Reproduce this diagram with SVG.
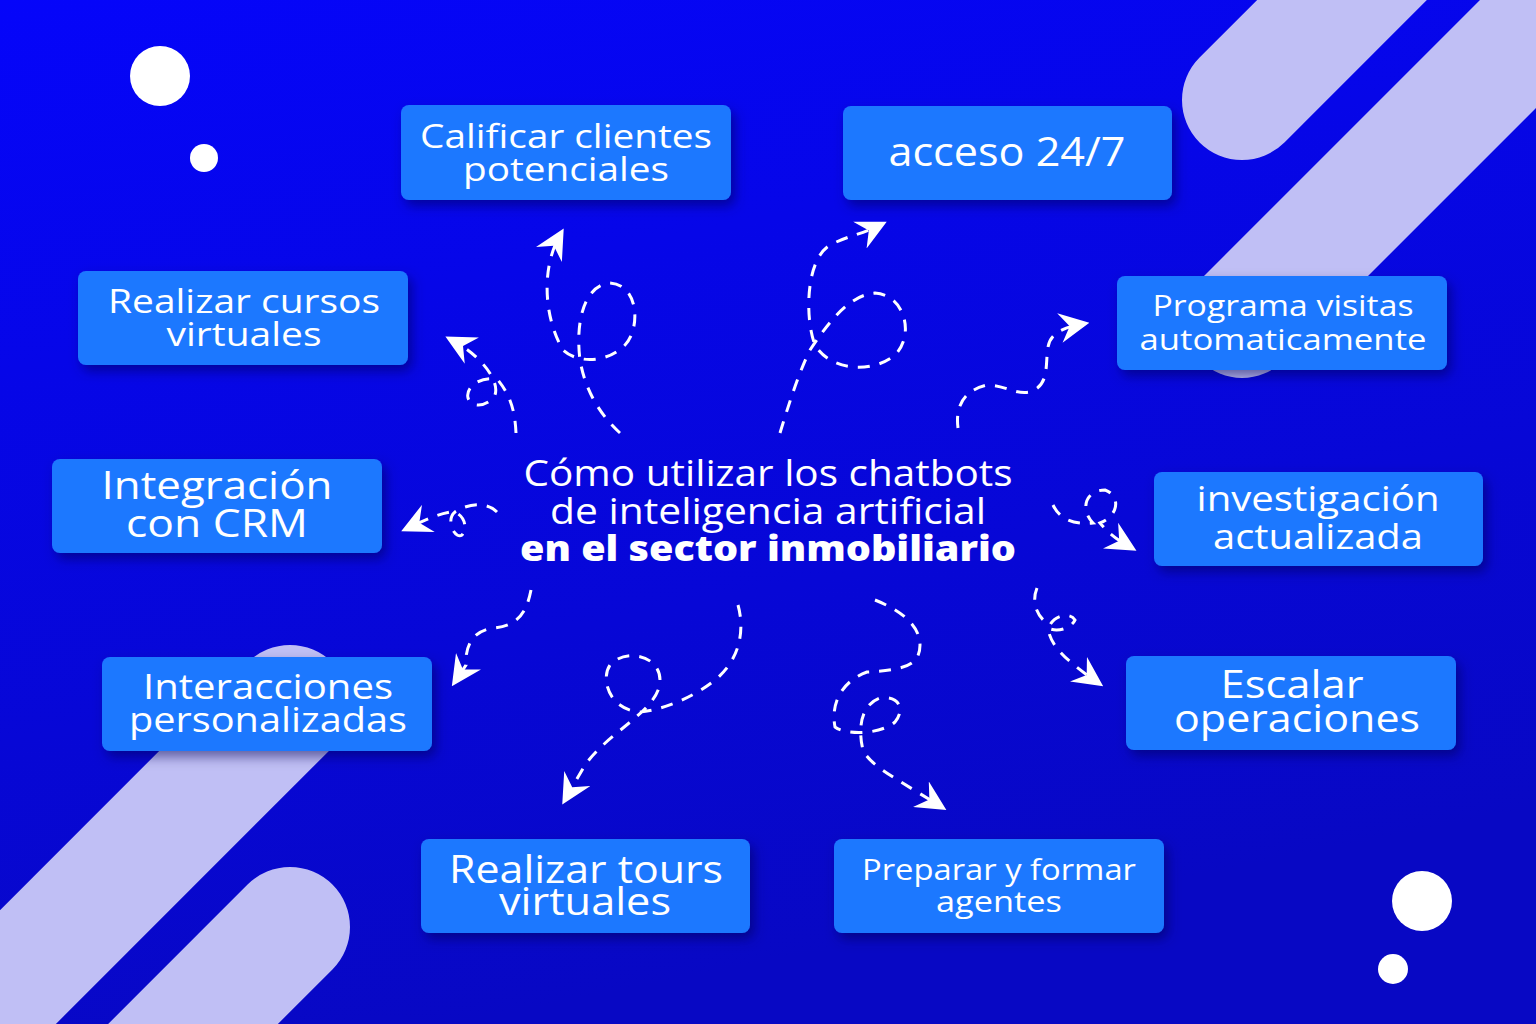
<svg xmlns="http://www.w3.org/2000/svg" width="1536" height="1024" viewBox="0 0 1536 1024">
<defs>
<linearGradient id="bg" x1="0" y1="0" x2="0.3" y2="1">
<stop offset="0" stop-color="#0505fa"/><stop offset="1" stop-color="#0808c4"/>
</linearGradient>
<filter id="sh" x="-10%" y="-20%" width="130%" height="150%"><feDropShadow dx="4" dy="6" stdDeviation="6" flood-color="#000050" flood-opacity="0.5"/></filter>
<marker id="ah" viewBox="0 0 12 12" refX="9" refY="6" markerWidth="30" markerHeight="30" markerUnits="userSpaceOnUse" orient="auto"><path d="M12,6 L0,0 L4,6 L0,12 Z" fill="#fff"/></marker>
<style>
.box{fill:#1e78ff;filter:url(#sh)}
.t{font-family:"Open Sans","DejaVu Sans",sans-serif;fill:#fff;text-anchor:middle}
.c{fill:none;stroke:#fff;stroke-width:3;stroke-dasharray:12 10;marker-end:url(#ah)}
.st{stroke:#c0bff5;stroke-linecap:round;fill:none}
</style>
</defs>
<rect width="1536" height="1024" fill="url(#bg)"/>
<g id="decor">
<line class="st" x1="1242" y1="100" x2="1400" y2="-58" stroke-width="120"/>
<line class="st" x1="1242" y1="320" x2="1620" y2="-58" stroke-width="116"/>
<line class="st" x1="290" y1="705" x2="-60" y2="1055" stroke-width="120"/>
<line class="st" x1="290" y1="927" x2="150" y2="1067" stroke-width="120"/>
<circle cx="160" cy="76" r="30" fill="#fff"/>
<circle cx="204" cy="158" r="14" fill="#fff"/>
<circle cx="1422" cy="901" r="30" fill="#fff"/>
<circle cx="1393" cy="969" r="15" fill="#fff"/>
</g>
<g id="connectors">
<path class="c" d="M620,433 C600,415 585,390 580,360 C575,320 585,285 610,283 C640,285 640,330 625,345 C605,365 575,362 563,350 C545,320 540,270 560,235"/>
<path class="c" d="M780,433 C790,400 800,370 810,350 C830,320 850,295 875,293 C905,295 915,335 895,355 C870,375 830,370 815,345 C805,320 805,260 830,245 C850,235 860,235 880,225"/>
<path class="c" d="M516,433 C515,410 510,395 498,380 C485,375 465,385 468,398 C472,410 490,405 495,395 C500,380 480,355 452,340"/>
<path class="c" d="M497,512 C485,500 465,505 455,512 C445,520 455,540 462,535 C470,525 460,510 450,512 C435,515 425,520 408,528"/>
<path class="c" d="M531,590 C527,610 520,625 495,628 C470,630 465,650 466,665 L456,680"/>
<path class="c" d="M738,605 C745,630 740,660 715,680 C690,700 660,710 640,712 C610,710 600,680 610,665 C625,648 660,655 660,680 C660,710 610,730 585,765 L566,798"/>
<path class="c" d="M875,600 C900,610 920,625 920,645 C920,665 905,670 867,672 C845,680 830,700 835,727 C845,735 880,735 895,722 C905,710 900,695 880,698 C860,705 858,730 863,750 C870,765 890,775 940,806"/>
<path class="c" d="M958,428 C955,405 965,390 987,385 C1005,385 1015,395 1030,392 C1050,385 1045,365 1048,347 C1050,335 1060,328 1082,324"/>
<path class="c" d="M1053,505 C1060,520 1075,525 1093,523 C1080,510 1085,490 1105,490 C1120,495 1120,515 1100,523 C1110,535 1118,540 1130,547"/>
<path class="c" d="M1037,588 C1030,605 1040,620 1050,625 C1055,615 1070,612 1075,620 C1070,630 1055,632 1048,628 C1050,645 1065,660 1097,682"/>
</g>
<g id="n1"><rect class="box" x="401" y="105" width="330" height="95" rx="8"/><text class="t" x="566" y="148" font-size="33" textLength="292" lengthAdjust="spacingAndGlyphs">Calificar clientes</text><text class="t" x="566" y="181" font-size="33" textLength="206" lengthAdjust="spacingAndGlyphs">potenciales</text></g>
<g id="n2"><rect class="box" x="843" y="106" width="329" height="94" rx="8"/><text class="t" x="1007" y="166" font-size="40" textLength="237" lengthAdjust="spacingAndGlyphs">acceso 24/7</text></g>
<g id="n3"><rect class="box" x="78" y="271" width="330" height="94" rx="8"/><text class="t" x="244" y="313" font-size="33" textLength="272" lengthAdjust="spacingAndGlyphs">Realizar cursos</text><text class="t" x="244" y="346" font-size="33" textLength="155" lengthAdjust="spacingAndGlyphs">virtuales</text></g>
<g id="n4"><rect class="box" x="1117" y="276" width="330" height="94" rx="8"/><text class="t" x="1283" y="316" font-size="30" textLength="261" lengthAdjust="spacingAndGlyphs">Programa visitas</text><text class="t" x="1283" y="350" font-size="30" textLength="287" lengthAdjust="spacingAndGlyphs">automaticamente</text></g>
<g id="n5"><rect class="box" x="52" y="459" width="330" height="94" rx="8"/><text class="t" x="217" y="499" font-size="38" textLength="231" lengthAdjust="spacingAndGlyphs">Integración</text><text class="t" x="217" y="537" font-size="38" textLength="182" lengthAdjust="spacingAndGlyphs">con CRM</text></g>
<g id="n6"><rect class="box" x="1154" y="472" width="329" height="94" rx="8"/><text class="t" x="1318" y="511" font-size="35" textLength="243" lengthAdjust="spacingAndGlyphs">investigación</text><text class="t" x="1318" y="549" font-size="35" textLength="210" lengthAdjust="spacingAndGlyphs">actualizada</text></g>
<g id="n7"><rect class="box" x="102" y="657" width="330" height="94" rx="8"/><text class="t" x="268" y="699" font-size="34" textLength="250" lengthAdjust="spacingAndGlyphs">Interacciones</text><text class="t" x="268" y="732" font-size="34" textLength="278" lengthAdjust="spacingAndGlyphs">personalizadas</text></g>
<g id="n8"><rect class="box" x="1126" y="656" width="330" height="94" rx="8"/><text class="t" x="1292" y="698" font-size="38" textLength="143" lengthAdjust="spacingAndGlyphs">Escalar</text><text class="t" x="1297" y="732" font-size="38" textLength="246" lengthAdjust="spacingAndGlyphs">operaciones</text></g>
<g id="n9"><rect class="box" x="421" y="839" width="329" height="94" rx="8"/><text class="t" x="586" y="883" font-size="38" textLength="274" lengthAdjust="spacingAndGlyphs">Realizar tours</text><text class="t" x="585" y="915" font-size="38" textLength="172" lengthAdjust="spacingAndGlyphs">virtuales</text></g>
<g id="n10"><rect class="box" x="834" y="839" width="330" height="94" rx="8"/><text class="t" x="999" y="880" font-size="30" textLength="274" lengthAdjust="spacingAndGlyphs">Preparar y formar</text><text class="t" x="999" y="912" font-size="30" textLength="126" lengthAdjust="spacingAndGlyphs">agentes</text></g>
<g id="title">
<text class="t" x="768" y="486" font-size="36" textLength="489" lengthAdjust="spacingAndGlyphs">Cómo utilizar los chatbots</text>
<text class="t" x="768" y="524" font-size="36" textLength="436" lengthAdjust="spacingAndGlyphs">de inteligencia artificial</text>
<text class="t" x="768" y="561" font-size="36" font-weight="900" textLength="496" lengthAdjust="spacingAndGlyphs">en el sector inmobiliario</text>
</g>
</svg>
